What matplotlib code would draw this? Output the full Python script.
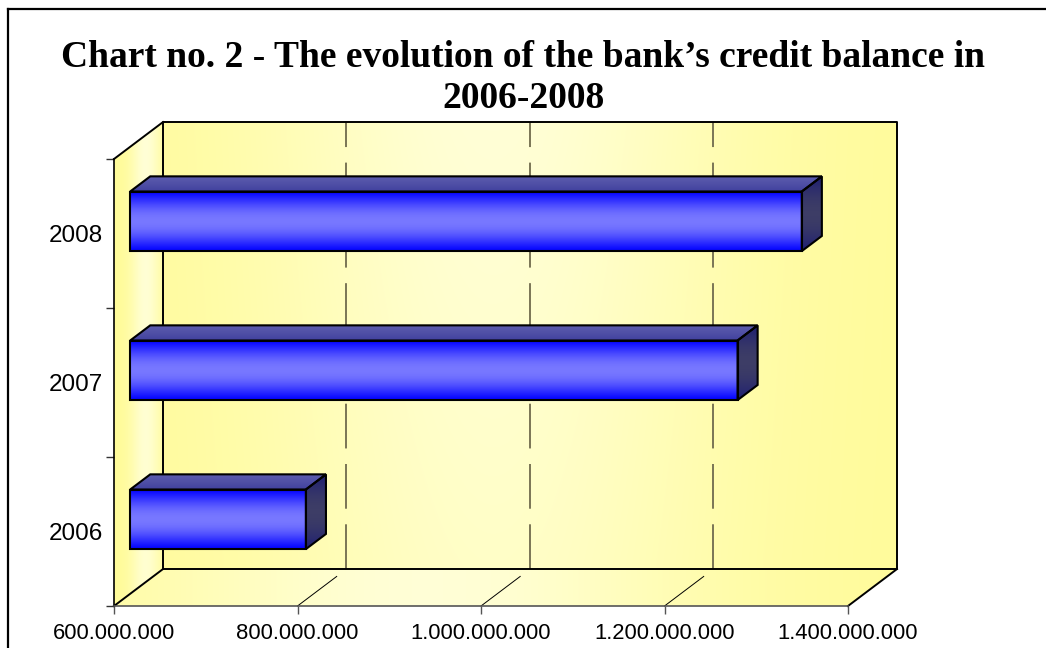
import numpy as np
import matplotlib
matplotlib.use("Agg")
import matplotlib.pyplot as plt
from matplotlib.patches import Polygon
from matplotlib.lines import Line2D
from matplotlib.ticker import FuncFormatter

years = ["2006", "2007", "2008"]
credit_balance = [791500000, 1262000000, 1332000000]
x_ticks = [600000000, 800000000, 1000000000, 1200000000, 1400000000]
title = "Chart no. 2 - The evolution of the bank\u2019s credit balance in\n2006-2008"

XMIN, XMAX = 600e6, 1400e6
NCAT = len(years)
DX, DY = 53.4e6, 0.248      # depth of the 3d box in data units
BAR_D0, BAR_D1 = 0.33, 0.74  # bar front / back depth (fraction of box)
BAR_H = 0.40

YELLOW = np.array([1.0, 0.985, 0.60])
LIGHT = np.array([1.0, 1.0, 0.84])

fig = plt.figure(figsize=(10.46, 6.48), dpi=100)
ax = fig.add_axes([114 / 1046, 42 / 648, 734 / 1046, 447 / 648])
ax.set_xlim(XMIN, XMAX)
ax.set_ylim(0, NCAT)
ax.patch.set_visible(False)


def grad_poly(pts, img, z):
    pts = np.asarray(pts, dtype=float)
    poly = Polygon(pts, closed=True, facecolor="none", edgecolor="none")
    poly.set_clip_on(False)
    ax.add_patch(poly)
    x0, x1 = pts[:, 0].min(), pts[:, 0].max()
    y0, y1 = pts[:, 1].min(), pts[:, 1].max()
    im = ax.imshow(img, extent=(x0, x1, y0, y1), origin="lower", aspect="auto",
                   interpolation="bilinear", zorder=z)
    im.set_clip_path(poly)
    im.set_clip_box(fig.bbox)


def wall_img(profile, ny=60, nx=200, vert=0.25):
    tx = np.linspace(0, 1, nx)
    ty = np.linspace(0, 1, ny)
    w = profile(tx)[None, :] * ((1 - vert) + vert * ty[:, None])
    return YELLOW + (LIGHT - YELLOW) * w[:, :, None]


# back wall
back = [(XMIN + DX, DY), (XMAX + DX, DY), (XMAX + DX, NCAT + DY), (XMIN + DX, NCAT + DY)]
grad_poly(back, wall_img(lambda t: np.exp(-((t - 0.45) / 0.33) ** 2)), 0)
# side wall
side = [(XMIN, 0), (XMIN + DX, DY), (XMIN + DX, NCAT + DY), (XMIN, NCAT)]
grad_poly(side, wall_img(lambda t: np.exp(-((t - 0.65) / 0.3) ** 2), vert=0.1), 0)
# floor
floor = [(XMIN, 0), (XMAX, 0), (XMAX + DX, DY), (XMIN + DX, DY)]
grad_poly(floor, wall_img(lambda t: np.exp(-((t - 0.4) / 0.35) ** 2), ny=10, vert=0.0), 0)

# gridlines
for xv in x_ticks[1:-1]:
    ax.plot([xv + DX, xv + DX], [DY, NCAT + DY], color="#7a7555", lw=1.4,
            dashes=(23, 8), clip_on=False, zorder=1)
    ax.plot([xv, xv + 0.8 * DX], [0, 0.8 * DY], color="black", lw=0.7,
            clip_on=False, zorder=1)

# box edges
edge = dict(color="black", lw=1.4, clip_on=False, zorder=2)
ax.plot([XMIN + DX, XMAX + DX, XMAX + DX, XMIN + DX, XMIN + DX],
        [DY, DY, NCAT + DY, NCAT + DY, DY], **edge)
ax.plot([XMIN, XMIN + DX], [NCAT, NCAT + DY], **edge)
ax.plot([XMIN, XMIN + DX], [0, DY], **edge)
ax.plot([XMAX, XMAX + DX], [0, DY], **edge)

# bars
ny = 60
t = np.linspace(0, 1, ny)
front_prof = np.sin(np.pi * t) ** 1.2
blue = np.array([0.02, 0.02, 1.0])
lblue = np.array([0.47, 0.47, 1.0])
front_img = (blue + (lblue - blue) * front_prof[:, None])[:, None, :]
top_img = (np.array([0.25, 0.25, 0.62]) + np.outer(t, [0.12, 0.12, 0.06]))[:, None, :]
side_prof = np.sin(np.pi * t)
side_img = (np.array([0.12, 0.12, 0.45]) + np.outer(side_prof, [0.12, 0.12, -0.05]))[:, None, :]

ddx = (BAR_D1 - BAR_D0) * DX
ddy = (BAR_D1 - BAR_D0) * DY
for i, v in enumerate(credit_balance):
    yc = i + 0.5
    x0 = XMIN + BAR_D0 * DX
    x1 = v + BAR_D0 * DX
    yb = yc - BAR_H / 2 + BAR_D0 * DY
    yt = yc + BAR_H / 2 + BAR_D0 * DY
    front = [(x0, yb), (x1, yb), (x1, yt), (x0, yt)]
    top = [(x0, yt), (x1, yt), (x1 + ddx, yt + ddy), (x0 + ddx, yt + ddy)]
    right = [(x1, yb), (x1, yt), (x1 + ddx, yt + ddy), (x1 + ddx, yb + ddy)]
    grad_poly(front, front_img, 3)
    grad_poly(top, top_img, 3)
    grad_poly(right, side_img, 3)
    for pts in (front, top, right):
        ax.add_patch(Polygon(pts, closed=True, fill=False, edgecolor="black",
                             lw=1.5, joinstyle="miter", clip_on=False, zorder=4))

# axes / ticks
for s in ("top", "right"):
    ax.spines[s].set_visible(False)
ax.spines["left"].set_color("black")
ax.spines["left"].set_linewidth(1.2)
ax.spines["bottom"].set_color("#555555")
ax.spines["bottom"].set_linewidth(1.2)
ax.spines["left"].set_zorder(2)
ax.spines["bottom"].set_zorder(2)

ax.set_xticks(x_ticks)
ax.xaxis.set_major_formatter(FuncFormatter(lambda v, p: f"{v:,.0f}".replace(",", ".")))
ax.tick_params(axis="x", direction="out", length=6, width=1, color="#555555",
               labelsize=15.8, pad=6)
ax.set_yticks(range(NCAT + 1))
ax.set_yticklabels([""] * (NCAT + 1))
ax.set_yticks([i + 0.5 for i in range(NCAT)], minor=True)
ax.set_yticklabels(years, minor=True)
ax.tick_params(axis="y", which="major", direction="out", length=6, width=1, color="#333333")
ax.tick_params(axis="y", which="minor", length=0, labelsize=17.5, pad=8)
for lab in ax.get_xticklabels() + ax.get_yticklabels(minor=True):
    lab.set_family("Liberation Sans")

ax.set_xlim(XMIN, XMAX)
ax.set_ylim(0, NCAT)

fig.text(0.5, 1 - 78 / 648, title, ha="center", va="center", fontsize=27,
         fontweight="bold", family="Liberation Serif", linespacing=1.2)

# outer chart frame
fig.add_artist(Line2D([8 / 1046, 8 / 1046], [0, 1 - 9 / 648], color="black", lw=1.6,
                      transform=fig.transFigure))
fig.add_artist(Line2D([8 / 1046, 1], [1 - 9 / 648, 1 - 9 / 648], color="black", lw=1.6,
                      transform=fig.transFigure))

fig.savefig("out.png", dpi=100)
